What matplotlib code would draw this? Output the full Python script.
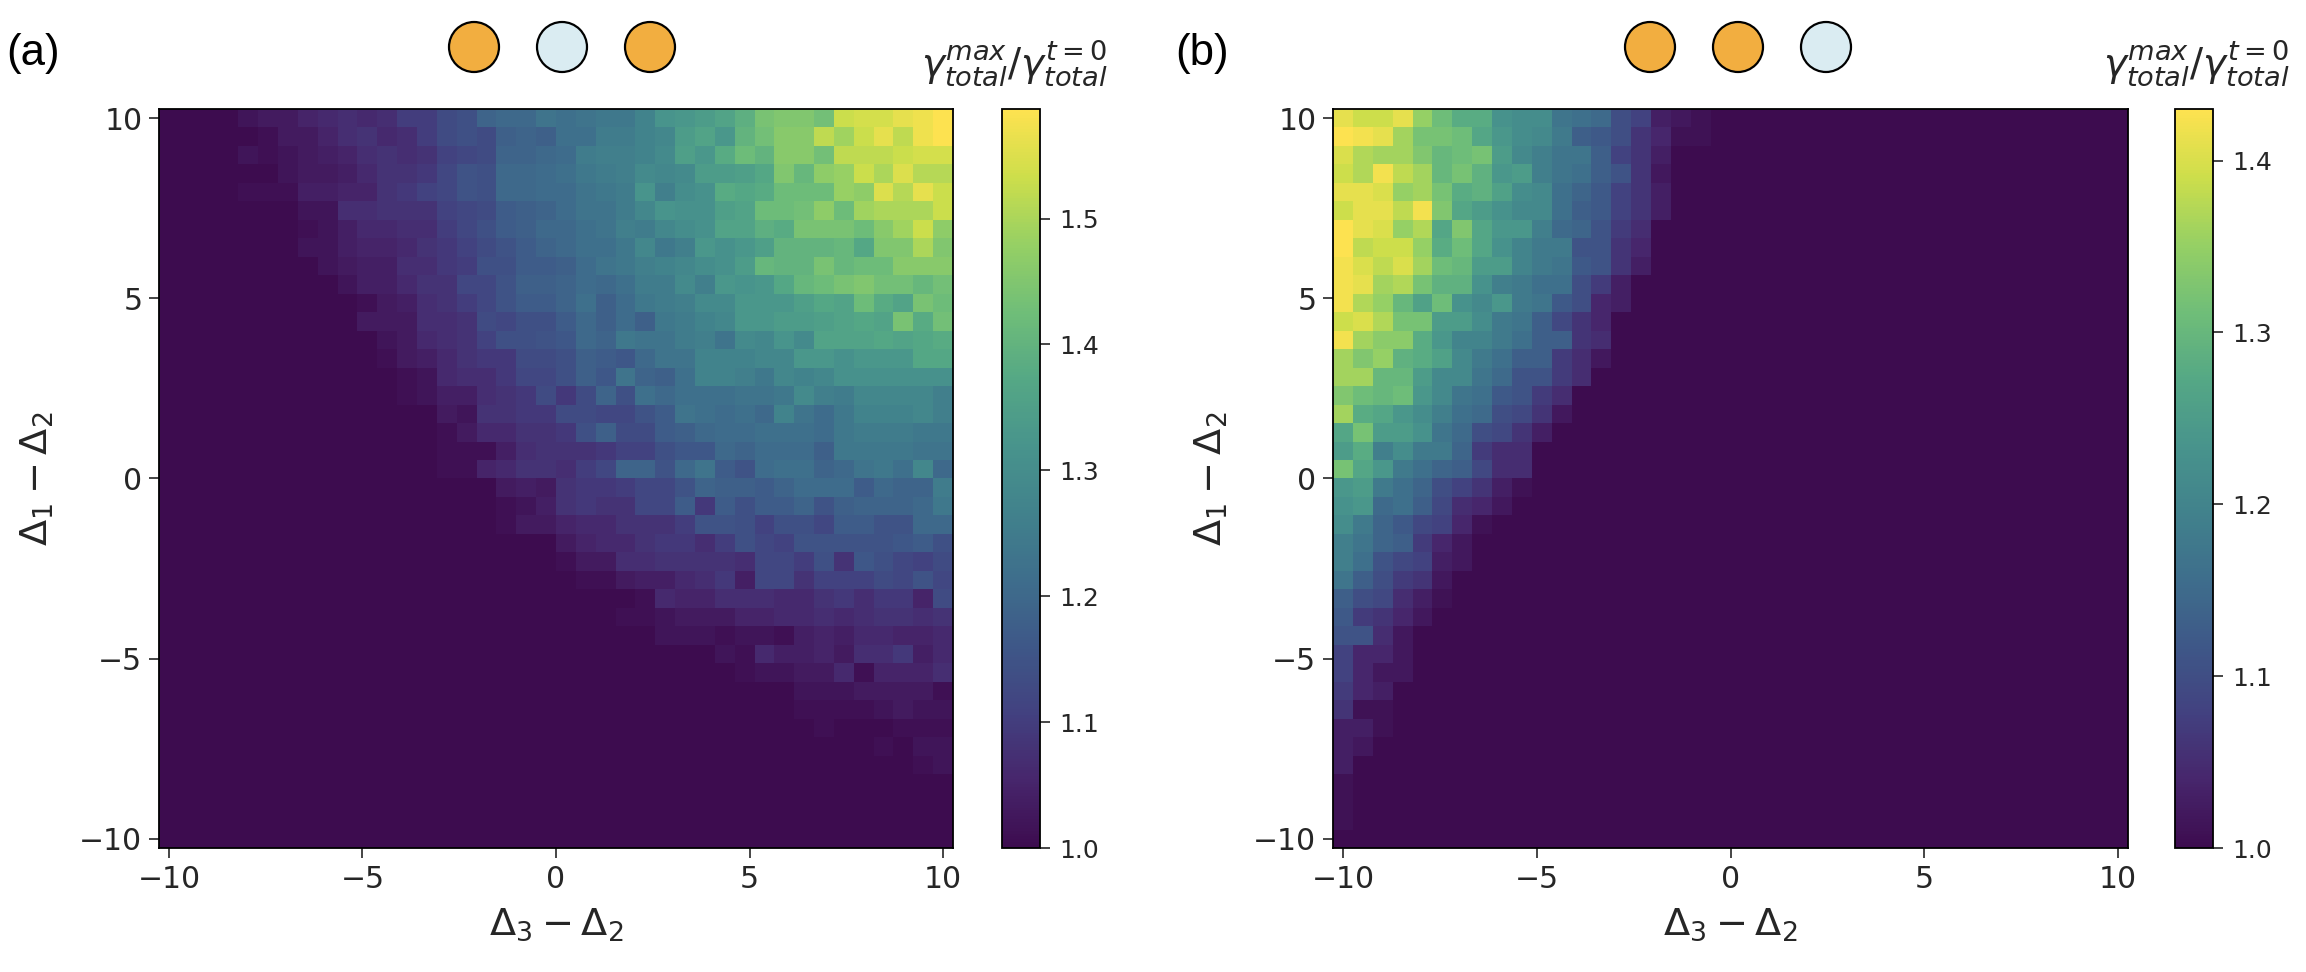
import numpy as np
import matplotlib
matplotlib.use("Agg")
import matplotlib.pyplot as plt
from matplotlib.colors import LinearSegmentedColormap
from matplotlib.patches import Circle

# percent above 1.0; each row runs up to the right-hand edge, zeros fill the left
rows_a = [
 [2,3,3,5,6,7,6,7,10,10,13,14,19,20,20,23,22,23,24,24,27,32,33,34,36,39,44,45,45,43,53,54,54,56,57,58.7],
 [1,3,3,5,7,8,6,7,10,13,14,13,18,19,18,22,22,25,25,27,28,34,36,33,40,43,46,46,52,49,53,56,52,57,58.7],
 [2,1,2,3,4,5,7,8,7,8,11,12,13,19,19,20,21,25,26,26,27,29,35,33,38,42,40,46,46,43,52,52,52,53,54,54],
 [2,3,3,4,6,8,8,9,12,15,14,20,20,21,22,24,25,26,29,28,29,34,34,35,37,45,41,47,48,53,50,55,51,51],
 [1,1,1,4,4,5,5,8,9,11,12,15,14,20,20,21,21,23,24,25,32,26,30,31,38,37,38,42,42,42,48,47,55,51,56,53],
 [2,2,7,7,8,8,8,11,12,13,17,18,19,21,23,23,25,28,32,31,31,35,36,42,42,43,47,42,49,50,50,50,53],
 [1,2,4,6,6,7,7,10,12,14,17,18,20,20,22,23,26,25,28,30,31,36,36,39,38,44,44,44,42,46,49,53,47],
 [2,2,4,5,5,6,8,9,11,13,15,17,19,20,22,22,24,28,24,26,33,31,33,35,40,40,40,41,37,45,45,50,45],
 [2,3,4,4,7,7,9,10,14,14,17,17,18,21,23,24,26,27,28,30,31,34,41,40,40,44,41,42,42,46,46,46],
 [2,4,4,6,8,8,12,12,15,18,18,19,21,20,22,25,25,29,26,33,32,33,37,41,42,44,45,43,43,41,43],
 [1,3,4,7,8,10,12,15,17,17,19,22,18,21,24,25,26,29,29,33,33,33,35,37,36,42,38,36,44,42],
 [3,3,3,7,7,8,13,12,14,14,17,20,18,21,18,24,25,27,28,33,33,34,34,35,36,37,36,44,38,43],
 [2,3,6,7,8,11,14,14,15,16,20,19,24,23,23,25,26,23,29,28,32,29,36,36,36,37,36,37,38],
 [1,3,4,6,8,9,9,13,13,14,18,17,16,20,23,23,27,27,27,28,28,33,33,31,33,33,33,37,37],
 [1,2,6,7,7,9,12,12,14,18,16,23,19,18,22,27,27,26,24,28,27,28,31,31,31,31,31,31],
 [1,2,4,4,7,8,9,13,9,13,19,14,22,20,22,22,22,23,23,24,29,26,25,28,28,28,28,26],
 [3,2,8,8,9,9,13,13,12,12,15,17,23,22,21,22,20,27,23,21,24,27,27,27,28,26],
 [1,3,6,6,8,8,9,14,18,13,13,17,18,20,21,21,22,22,22,21,24,25,25,25,24,24],
 [1,1,1,4,7,8,8,8,9,11,11,14,16,16,20,19,21,21,21,18,24,24,24,24,23,23],
 [1,1,5,6,8,8,7,10,12,19,19,15,20,23,17,15,21,22,22,19,20,23,24,22,28,20],
 [3,4,3,8,9,9,10,12,12,15,19,18,18,17,19,21,21,21,17,20,19,19,25],
 [1,2,4,8,9,8,8,12,12,17,9,17,14,17,17,19,15,18,19,19,19,20,24],
 [1,3,3,5,6,6,8,8,8,10,15,15,14,11,14,14,12,17,17,15,15,20,20],
 [3,5,6,6,8,9,9,7,10,14,12,11,15,15,15,15,15,16,17,14],
 [1,3,3,7,7,8,8,8,8,7,12,12,10,14,8,16,14,12,11,13],
 [1,1,3,4,4,6,7,9,4,12,12,8,11,11,11,13,12,15,12],
 [1,6,5,5,7,7,7,6,6,8,9,7,9,9,5,13],
 [1,1,2,3,3,3,5,5,6,6,7,6,7,8,8,7,8],
 [2,2,2,1,2,2,1,4,5,4,6,6,5,5,6],
 [2,1,6,4,4,5,3,7,7,9,4,6],
 [1,2,2,3,3,6,1,5,5,5,7],
 [2,2,2,3,3,3,3,1],
 [1,1,1,1,2,3,2,2],
 [1,0,0,0,1,1,1],
 [1,0,2,2],
 [1,2],
 [],
 [],
 [],
 [],
]

# percent above 1.0; each row starts at the left-hand edge, zeros fill the right
rows_b = [
 [41,39,39,41,35,31,28,28,23,22,22,17,16,15,10,8,3,2,1],
 [43,42,41,36,32,32,31,27,24,22,21,18,13,12,10,6,4,1,1],
 [40,37,36,36,33,30,31,32,25,21,19,17,17,13,8,6,3],
 [39,37,42,38,36,30,32,29,24,25,19,17,16,13,11,6,2],
 [41,41,40,35,36,32,28,29,26,22,21,16,14,12,8,6,3],
 [39,41,41,38,42,33,27,25,23,21,21,16,13,12,8,6,3],
 [43,41,40,35,37,27,33,27,24,24,19,15,14,11,7,5],
 [43,38,39,39,35,28,31,27,23,20,18,18,11,11,6,4],
 [42,40,38,40,36,31,30,25,25,20,18,17,12,11,6,3],
 [42,41,36,37,32,29,29,23,19,18,16,16,10,7,3],
 [42,37,35,30,26,31,23,21,24,18,17,12,10,4,3],
 [39,40,37,32,32,25,25,22,18,17,13,9,6,4],
 [42,36,34,34,28,24,20,20,18,16,13,13,6,5],
 [36,33,35,29,28,26,21,18,16,13,13,7,5,2],
 [36,36,30,30,25,21,21,17,15,11,11,7,5],
 [33,31,30,31,24,21,17,16,12,11,7,5],
 [36,28,27,24,22,19,16,15,10,9,6,2],
 [27,32,25,25,23,17,15,10,9,6,3],
 [25,28,19,22,18,18,14,7,5,5],
 [32,27,24,18,16,14,13,9,5,5],
 [24,25,18,16,14,10,8,6,3,1],
 [23,24,15,16,13,9,5,4,2],
 [22,18,14,12,9,8,4,1],
 [19,17,14,13,7,4,2],
 [19,16,11,9,8,3,2],
 [17,13,10,7,6,2],
 [13,10,9,5,3,1],
 [12,7,6,4,2],
 [11,11,5,2],
 [8,4,4,2],
 [8,4,2,2],
 [7,4,3],
 [6,1,1],
 [3,3,1],
 [3,2],
 [3],
 [1],
 [1],
 [1],
 [],
]

detuning_ticks = [-10, -5, 0, 5, 10]
cbar_ticks_a = [1.0, 1.1, 1.2, 1.3, 1.4, 1.5]
cbar_ticks_b = [1.0, 1.1, 1.2, 1.3, 1.4]
dots_a = ["orange", "pale", "orange"]
dots_b = ["orange", "orange", "pale"]
dot_colours = {"orange": "#F2AE40", "pale": "#DAECF2"}

W, H = 2306, 972
TXT = "#262626"
cmap = LinearSegmentedColormap.from_list("screen_viridis",
    [tuple(c / 255 for c in rgb) for rgb in [
    (61, 12, 79), (71, 38, 108), (66, 65, 128), (62, 88, 136), (62, 110, 140),
    (65, 130, 140), (72, 148, 140), (85, 168, 133), (112, 190, 120), (150, 208, 100),
    (205, 222, 75), (253, 226, 80)]])

fig = plt.figure(figsize=(W / 100, H / 100), dpi=100, facecolor="white")


def box(x0, x1, y0=109, y1=848):
    return [x0 / W, 1 - y1 / H, (x1 - x0) / W, (y1 - y0) / H]


x_grid = np.linspace(-10, 10, 40)
y_grid = np.linspace(10, -10, 40)


def panel(rows, right_aligned, ax_x, cb_x, ticks, letter, letter_x, dots, dot_xs, title_x):
    z = np.zeros((40, 40))
    for i, r in enumerate(rows):
        if r:
            if right_aligned:
                z[i, 40 - len(r):] = r
            else:
                z[i, :len(r)] = r
    z = 1 + z / 100
    ax = fig.add_axes(box(*ax_x))
    m = ax.pcolormesh(x_grid, y_grid, z, shading="nearest", cmap=cmap,
                      vmin=1.0, vmax=z.max(), rasterized=True)
    ax.set_xticks(detuning_ticks)
    ax.set_yticks(detuning_ticks)
    ax.tick_params(labelsize=21.5, length=7, width=1.2, colors=TXT, pad=5)
    ax.set_xlabel(r"$\Delta_3 - \Delta_2$", fontsize=27.5, color=TXT, labelpad=9)
    ax.set_ylabel(r"$\Delta_1 - \Delta_2$", fontsize=27.5, color=TXT, labelpad=17)
    for s in ax.spines.values():
        s.set_linewidth(1.3)
    cax = fig.add_axes(box(*cb_x))
    cb = fig.colorbar(m, cax=cax)
    cb.set_ticks(ticks)
    cb.set_ticklabels([f"{t:.1f}" for t in ticks])
    cax.tick_params(labelsize=18, length=7, width=1.2, colors=TXT, pad=7)
    cb.outline.set_linewidth(1.3)
    fig.text(title_x / W, 1 - 88 / H, r"$\gamma_{total}^{max}/\gamma_{total}^{t=0}$",
             fontsize=28, color=TXT, ha="center", va="bottom")
    fig.text(letter_x / W, 1 - 53 / H, letter, fontsize=31.5, family="Liberation Sans",
             va="center", ha="left", color="black")
    for name, cx in zip(dots, dot_xs):
        overlay.add_patch(Circle((cx, 47), 25, facecolor=dot_colours[name],
                                 edgecolor="black", linewidth=1.6))


overlay = fig.add_axes([0, 0, 1, 1], zorder=5)
overlay.set_xlim(0, W)
overlay.set_ylim(H, 0)
overlay.axis("off")
overlay.patch.set_alpha(0)

panel(rows_a, True, (159, 953), (1002, 1040), cbar_ticks_a, "(a)", 6, dots_a, (474, 562, 650), 1014)
panel(rows_b, False, (1333, 2128), (2175, 2213), cbar_ticks_b, "(b)", 1175, dots_b, (1650, 1738, 1826), 2196)

fig.savefig("out.png", dpi=100, facecolor="white")
